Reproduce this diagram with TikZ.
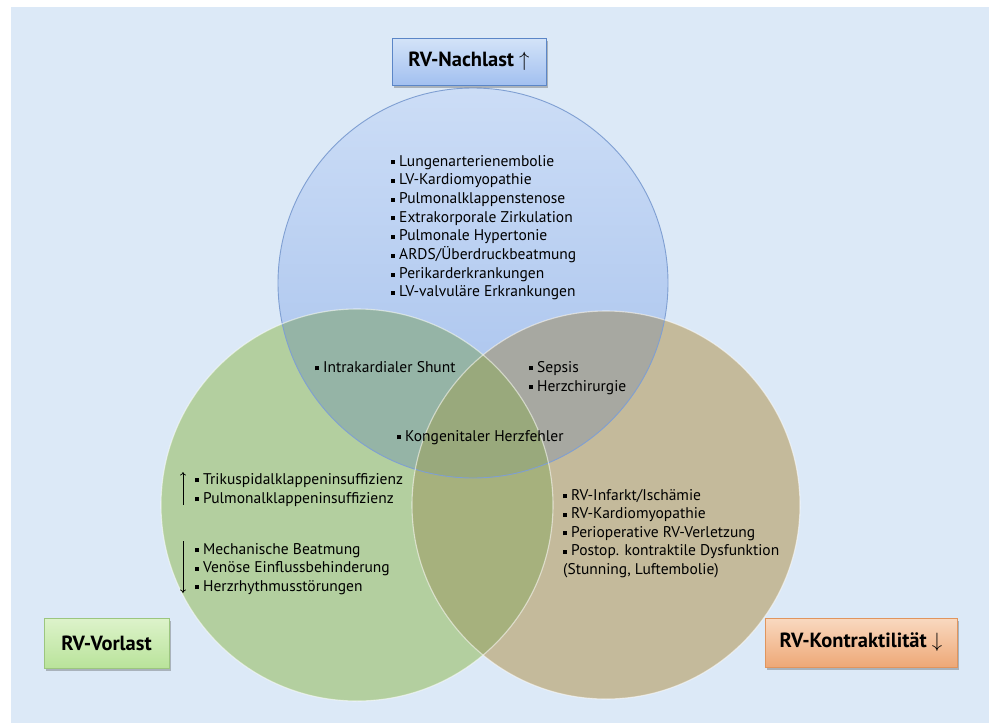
\documentclass[tikz,border=0pt]{standalone}
\usepackage{fontspec}
\setmainfont{PT Sans}
\usetikzlibrary{shadows,arrows.meta}
\definecolor{bg}{HTML}{DCE9F7}
\definecolor{blueTop}{HTML}{CCDDF6}
\definecolor{blueBot}{HTML}{A3BFEC}
\definecolor{blueEdge}{HTML}{7F9FD2}
\definecolor{greenC}{HTML}{B3CF9F}
\definecolor{tanC}{HTML}{C4BA9B}
\definecolor{tealC}{HTML}{95B4A6}
\definecolor{greyC}{HTML}{A7A8A1}
\definecolor{oliveC}{HTML}{A6B17D}
\definecolor{midC}{HTML}{99A97C}
\definecolor{nbTop}{HTML}{D3E3F8}
\definecolor{nbBot}{HTML}{A2C0F0}
\definecolor{nbEdge}{HTML}{5B86C7}
\definecolor{vbTop}{HTML}{DDF3CB}
\definecolor{vbBot}{HTML}{B9E39A}
\definecolor{vbEdge}{HTML}{9CC67F}
\definecolor{kbTop}{HTML}{F9D9C0}
\definecolor{kbBot}{HTML}{EEA877}
\definecolor{kbEdge}{HTML}{E0955E}
\newcommand{\bul}{\rule[1.7pt]{4pt}{4pt}\hspace{4pt}}
\tikzset{
  item/.style={anchor=base west, inner sep=0pt, font=\fontsize{15.5}{18}\selectfont},
  titlebox/.style={draw, line width=0.8pt, inner sep=0pt, font=\bfseries\fontsize{20.5}{24}\selectfont,
    drop shadow={shadow xshift=1.5pt, shadow yshift=-2.5pt, opacity=0.35, fill=black!70}},
  ar/.style={line width=0.7pt, -{To[length=3.5pt,width=6pt]}}
}
\begin{document}
\begin{tikzpicture}[x=1pt,y=-1pt]
\useasboundingbox (0,0) rectangle (989,723);
\fill[bg] (11,7) rectangle (989,723);
\def\TC{(473,283) circle[radius=195]}
\def\LC{(357,505) circle[radius=196]}
\def\RC{(606,505) circle[radius=194]}
% single circles
\shade[top color=blueTop, bottom color=blueBot] \TC;
\fill[greenC] \LC;
\fill[tanC] \RC;
% pairwise overlaps
\begin{scope}\clip \TC; \fill[tealC] \LC; \end{scope}
\begin{scope}\clip \TC; \fill[greyC] \RC; \end{scope}
\begin{scope}\clip \LC; \fill[oliveC] \RC; \end{scope}
\begin{scope}\clip \TC; \clip \LC; \fill[midC] \RC; \end{scope}
% edges
\draw[blueEdge, line width=0.9pt] \TC;
\draw[white, opacity=0.55, line width=1.1pt] \LC;
\draw[white, opacity=0.55, line width=1.1pt] \RC;
% title boxes
\node[titlebox, draw=nbEdge, top color=nbTop, bottom color=nbBot, minimum width=154pt, minimum height=47pt] (nach) at (469,61.5) {RV-Nachlast $\uparrow$};
\node[titlebox, draw=vbEdge, top color=vbTop, bottom color=vbBot, minimum width=125pt, minimum height=50pt] (vor) at (106.5,643) {RV-Vorlast};
\node[titlebox, draw=kbEdge, top color=kbTop, bottom color=kbBot, minimum width=192pt, minimum height=49pt] (kon) at (861,642.5) {RV-Kontraktilität $\downarrow$};
% top list
\foreach \t [count=\i] in {Lungenarterienembolie, LV-Kardiomyopathie, Pulmonalklappenstenose, Extrakorporale Zirkulation, Pulmonale Hypertonie, ARDS/Überdruckbeatmung, Perikarderkrankungen, LV-valvuläre Erkrankungen}
  \node[item] (top\i) at (391,{166+18.7*(\i-1)}) {\bul\t};
% overlaps
\node[item] (shunt) at (315,372) {\bul Intrakardialer Shunt};
\node[item] (sep) at (529,372) {\bul Sepsis};
\node[item] (hch) at (529,391) {\bul Herzchirurgie};
\node[item] (kong) at (397,441) {\bul Kongenitaler Herzfehler};
% left list
\node[item] (tri) at (195,484) {\bul Trikuspidalklappeninsuffizienz};
\node[item] (pul) at (195,503) {\bul Pulmonalklappeninsuffizienz};
\node[item] (mech) at (195,554) {\bul Mechanische Beatmung};
\node[item] (ven) at (195,572.5) {\bul Venöse Einflussbehinderung};
\node[item] (hrs) at (195,591) {\bul Herzrhythmusstörungen};
\coordinate (u1) at (183,505);
\coordinate (u2) at (183,472);
\coordinate (d1) at (183,541);
\coordinate (d2) at (183,593);
\draw[ar] (u1) -- (u2);
\draw[ar] (d1) -- (d2);
% right list
\node[item] (rv1) at (563,500) {\bul RV-Infarkt/Ischämie};
\node[item] (rv2) at (563,518.5) {\bul RV-Kardiomyopathie};
\node[item] (rv3) at (563,537) {\bul Perioperative RV-Verletzung};
\node[item] (rv4) at (563,555.5) {\bul Postop. kontraktile Dysfunktion};
\node[item] (rv5) at (563,574) {(Stunning, Luftembolie)};
\end{tikzpicture}
\end{document}
